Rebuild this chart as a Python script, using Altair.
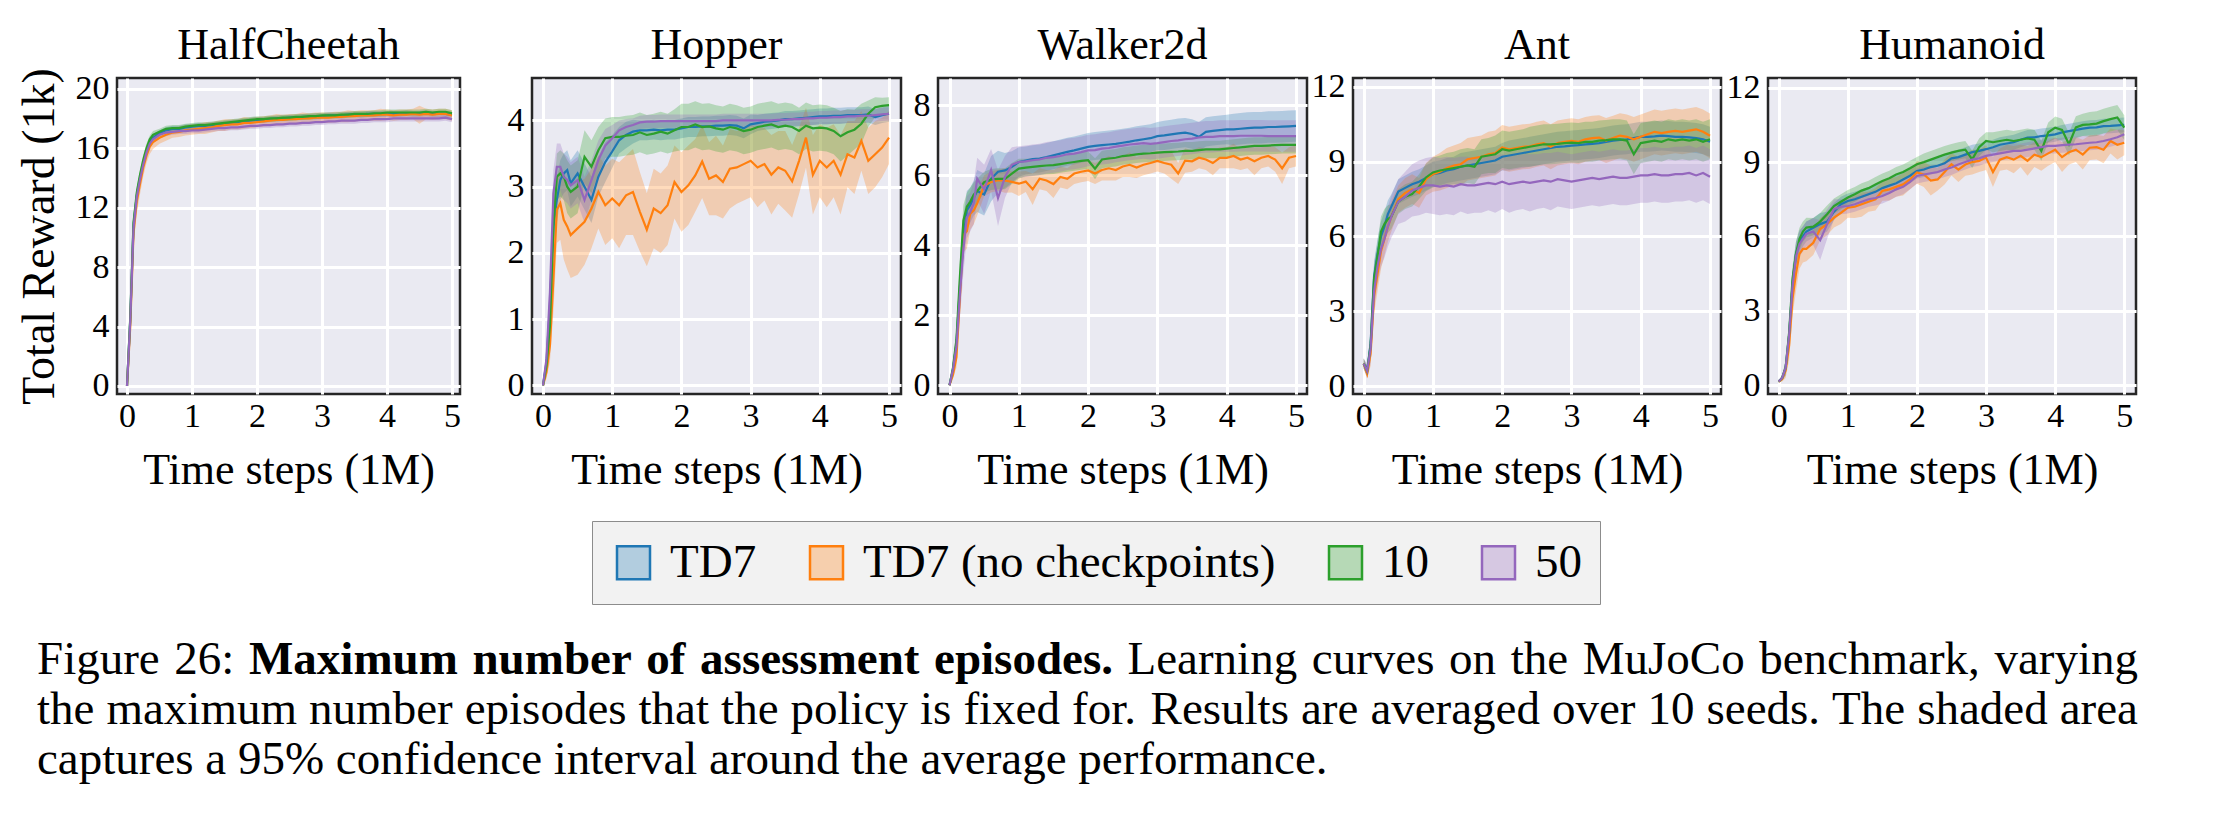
import altair as alt
import pandas as pd

FONT = "Liberation Serif"
SERIES = ["TD7", "TD7 (no checkpoints)", "10", "50"]
COLORS = ["#1f77b4", "#ff7f0e", "#2ca02c", "#9467bd"]
ENVS = ["HalfCheetah", "Hopper", "Walker2d", "Ant", "Humanoid"]

# time steps (1M)
X = [0, 0.05, 0.1, 0.15, 0.2, 0.25, 0.3, 0.35, 0.4,
     0.5, 0.6, 0.7, 0.8, 0.9, 1.0,
     1.1, 1.2, 1.3, 1.4, 1.5, 1.6, 1.7, 1.8, 1.9, 2.0,
     2.1, 2.2, 2.3, 2.4, 2.5, 2.6, 2.7, 2.8, 2.9, 3.0,
     3.1, 3.2, 3.3, 3.4, 3.5, 3.6, 3.7, 3.8, 3.9, 4.0,
     4.1, 4.2, 4.3, 4.4, 4.5, 4.6, 4.7, 4.8, 4.9, 5.0]

# ---------------- HalfCheetah ----------------
HC_TD7 = [0, 4.5, 10.8, 12.8, 14.0, 15.0, 15.8, 16.4, 16.7,
          17.0, 17.2, 17.3, 17.3, 17.4, 17.45,
          17.5, 17.5, 17.55, 17.6, 17.65, 17.7, 17.75, 17.8, 17.85, 17.9,
          17.9, 17.95, 18.0, 18.0, 18.05, 18.05, 18.1, 18.1, 18.15, 18.15,
          18.2, 18.2, 18.2, 18.25, 18.25, 18.25, 18.3, 18.3, 18.3, 18.3,
          18.3, 18.3, 18.35, 18.3, 18.3, 18.35, 18.3, 18.3, 18.3, 18.25]
HC_TD7_CI = [0, 0.4, 0.5, 0.5, 0.4, 0.35, 0.3, 0.3, 0.25,
             0.2, 0.2, 0.2, 0.2, 0.2, 0.2,
             0.2, 0.2, 0.2, 0.2, 0.2, 0.2, 0.2, 0.2, 0.2, 0.2,
             0.2, 0.2, 0.2, 0.2, 0.2, 0.2, 0.2, 0.2, 0.2, 0.2,
             0.2, 0.2, 0.2, 0.2, 0.2, 0.2, 0.2, 0.2, 0.2, 0.2,
             0.2, 0.2, 0.2, 0.2, 0.2, 0.2, 0.2, 0.2, 0.2, 0.2]
HC_NC = [0, 4.0, 10.3, 12.4, 13.6, 14.7, 15.5, 16.1, 16.4,
         16.7, 16.9, 17.05, 17.1, 17.2, 17.25,
         17.3, 17.35, 17.4, 17.5, 17.55, 17.6, 17.6, 17.7, 17.7, 17.75,
         17.8, 17.85, 17.9, 17.9, 17.95, 17.95, 18.0, 18.0, 18.05, 18.05,
         18.05, 18.1, 18.1, 18.15, 18.15, 18.2, 18.2, 18.2, 18.25, 18.25,
         18.2, 18.25, 18.25, 18.3, 18.25, 18.3, 18.25, 18.3, 18.3, 18.2]
HC_NC_CI = [0, 0.6, 0.9, 0.8, 0.7, 0.6, 0.5, 0.5, 0.45,
            0.4, 0.4, 0.35, 0.35, 0.35, 0.35,
            0.35, 0.4, 0.35, 0.35, 0.4, 0.35, 0.35, 0.4, 0.35, 0.35,
            0.35, 0.35, 0.4, 0.35, 0.35, 0.35, 0.4, 0.35, 0.35, 0.35,
            0.35, 0.35, 0.35, 0.4, 0.35, 0.35, 0.35, 0.35, 0.4, 0.35,
            0.35, 0.35, 0.35, 0.35, 0.6, 0.35, 0.35, 0.35, 0.35, 0.35]
HC_10 = [0, 4.6, 11.0, 13.0, 14.2, 15.2, 16.0, 16.6, 16.9,
         17.1, 17.3, 17.35, 17.35, 17.45, 17.5,
         17.55, 17.55, 17.6, 17.65, 17.7, 17.75, 17.8, 17.85, 17.9, 17.95,
         17.95, 18.0, 18.0, 18.05, 18.05, 18.1, 18.1, 18.15, 18.15, 18.2,
         18.2, 18.2, 18.25, 18.25, 18.3, 18.3, 18.3, 18.35, 18.35, 18.4,
         18.4, 18.4, 18.4, 18.4, 18.4, 18.45, 18.4, 18.45, 18.45, 18.35]
HC_10_CI = [0, 0.4, 0.5, 0.45, 0.4, 0.35, 0.3, 0.25, 0.25,
            0.2, 0.2, 0.2, 0.2, 0.2, 0.2,
            0.2, 0.2, 0.2, 0.2, 0.2, 0.2, 0.2, 0.2, 0.2, 0.2,
            0.2, 0.2, 0.2, 0.2, 0.2, 0.2, 0.2, 0.2, 0.2, 0.2,
            0.2, 0.2, 0.2, 0.2, 0.2, 0.2, 0.2, 0.2, 0.2, 0.2,
            0.2, 0.2, 0.2, 0.2, 0.2, 0.2, 0.2, 0.2, 0.2, 0.2]
HC_50 = [0, 4.4, 10.6, 12.7, 13.9, 14.9, 15.7, 16.3, 16.6,
         16.9, 17.05, 17.1, 17.15, 17.15, 17.2,
         17.2, 17.25, 17.3, 17.35, 17.35, 17.4, 17.4, 17.45, 17.5, 17.5,
         17.55, 17.55, 17.6, 17.6, 17.65, 17.65, 17.7, 17.7, 17.75, 17.75,
         17.8, 17.8, 17.85, 17.85, 17.85, 17.9, 17.9, 17.95, 17.95, 17.95,
         18.0, 18.0, 18.0, 18.0, 18.0, 18.0, 18.0, 18.0, 18.05, 17.95]
HC_50_CI = [0, 0.4, 0.5, 0.5, 0.4, 0.35, 0.3, 0.3, 0.25,
            0.25, 0.25, 0.2, 0.2, 0.2, 0.2,
            0.2, 0.2, 0.2, 0.2, 0.2, 0.2, 0.2, 0.2, 0.2, 0.2,
            0.2, 0.2, 0.2, 0.2, 0.2, 0.2, 0.2, 0.2, 0.2, 0.2,
            0.2, 0.2, 0.2, 0.2, 0.2, 0.2, 0.2, 0.2, 0.2, 0.2,
            0.2, 0.2, 0.2, 0.2, 0.2, 0.2, 0.2, 0.2, 0.2, 0.2]

# ---------------- Hopper ----------------
HO_TD7 = [0, 0.35, 1.2, 2.4, 2.8, 3.1, 3.2, 3.25, 3.05,
          3.2, 3.0, 2.8, 3.15, 3.37, 3.53,
          3.7, 3.78, 3.83, 3.85, 3.85, 3.86, 3.85, 3.86, 3.86, 3.88,
          3.9, 3.9, 3.91, 3.91, 3.92, 3.92, 3.93, 3.92, 3.88, 3.94,
          3.96, 3.98, 3.99, 4.0, 4.02, 4.02, 4.03, 4.04, 4.05, 4.06,
          4.06, 4.07, 4.07, 4.08, 4.08, 4.08, 4.09, 4.05, 4.08, 4.1]
HO_TD7_CI = [0, 0.1, 0.3, 0.35, 0.35, 0.3, 0.3, 0.3, 0.35,
             0.35, 0.35, 0.35, 0.3, 0.3, 0.25,
             0.2, 0.2, 0.18, 0.15, 0.15, 0.15, 0.15, 0.15, 0.15, 0.15,
             0.15, 0.15, 0.15, 0.15, 0.15, 0.15, 0.15, 0.15, 0.15, 0.15,
             0.12, 0.12, 0.12, 0.12, 0.12, 0.12, 0.12, 0.12, 0.12, 0.12,
             0.12, 0.12, 0.12, 0.12, 0.12, 0.12, 0.12, 0.12, 0.12, 0.12]
HO_NC = [0, 0.2, 0.6, 1.6, 2.65, 2.75, 2.5, 2.4, 2.27,
         2.37, 2.47, 2.67, 2.92, 2.72, 2.82,
         2.72, 2.87, 2.92, 2.62, 2.35, 2.67, 2.6, 2.72, 3.07, 2.92,
         3.02, 3.17, 3.38, 3.12, 3.17, 3.07, 3.27, 3.29, 3.34, 3.39,
         3.29, 3.34, 3.18, 3.29, 3.24, 3.08, 3.39, 3.74, 3.18, 3.39,
         3.29, 3.39, 3.18, 3.49, 3.44, 3.69, 3.39, 3.49, 3.59, 3.74]
HO_NC_CI = [0, 0.1, 0.25, 0.5, 0.5, 0.55, 0.6, 0.65, 0.65,
            0.7, 0.65, 0.6, 0.55, 0.6, 0.6,
            0.65, 0.6, 0.65, 0.6, 0.55, 0.6, 0.6, 0.6, 0.55, 0.6,
            0.6, 0.55, 0.55, 0.55, 0.6, 0.55, 0.6, 0.55, 0.55, 0.55,
            0.6, 0.55, 0.6, 0.55, 0.6, 0.55, 0.5, 0.45, 0.6, 0.55,
            0.6, 0.55, 0.6, 0.5, 0.55, 0.45, 0.5, 0.5, 0.45, 0.4]
HO_10 = [0, 0.3, 0.9, 2.4, 3.15, 3.2, 3.15, 3.0, 2.92,
         3.0, 3.45, 3.3, 3.55, 3.73, 3.75,
         3.75, 3.77, 3.78, 3.82, 3.78, 3.8, 3.83, 3.8, 3.85, 3.9,
         3.9, 3.94, 3.9, 3.91, 3.88, 3.86, 3.9, 3.88, 3.84, 3.86,
         3.9, 3.92, 3.94, 3.9, 3.92, 3.9, 3.84, 3.92, 3.88, 3.89,
         3.88, 3.84, 3.76, 3.82, 3.86, 3.95, 4.1, 4.2, 4.22, 4.23]
HO_10_CI = [0, 0.1, 0.3, 0.4, 0.35, 0.35, 0.35, 0.4, 0.4,
            0.4, 0.4, 0.4, 0.35, 0.3, 0.3,
            0.3, 0.3, 0.3, 0.3, 0.3, 0.3, 0.3, 0.3, 0.32, 0.35,
            0.35, 0.35, 0.35, 0.35, 0.35, 0.35, 0.35, 0.35, 0.35, 0.35,
            0.35, 0.35, 0.35, 0.35, 0.35, 0.35, 0.35, 0.35, 0.35, 0.35,
            0.35, 0.35, 0.38, 0.35, 0.3, 0.3, 0.2, 0.15, 0.12, 0.12]
HO_50 = [0, 0.4, 1.4, 2.9, 3.3, 3.3, 3.15, 3.1, 3.02,
         3.1, 2.8, 3.1, 3.4, 3.62, 3.73,
         3.85, 3.9, 3.93, 3.97, 3.98, 3.98, 3.99, 3.99, 3.99, 3.99,
         3.99, 3.99, 3.99, 3.99, 3.99, 4.0, 4.0, 4.0, 4.0, 4.0,
         4.0, 4.0, 4.0, 4.01, 4.01, 4.02, 4.02, 4.03, 4.03, 4.04,
         4.04, 4.05, 4.05, 4.06, 4.06, 4.07, 4.07, 4.08, 4.09, 4.1]
HO_50_CI = [0, 0.1, 0.3, 0.35, 0.35, 0.35, 0.35, 0.35, 0.35,
            0.35, 0.35, 0.3, 0.3, 0.25, 0.2,
            0.15, 0.12, 0.1, 0.1, 0.1, 0.1, 0.1, 0.1, 0.1, 0.1,
            0.1, 0.1, 0.1, 0.1, 0.1, 0.1, 0.1, 0.1, 0.1, 0.1,
            0.1, 0.1, 0.1, 0.1, 0.1, 0.1, 0.1, 0.1, 0.1, 0.1,
            0.1, 0.1, 0.1, 0.1, 0.1, 0.1, 0.1, 0.1, 0.1, 0.1]

# ---------------- Walker2d ----------------
WA_TD7 = [0, 0.45, 1.2, 2.8, 4.2, 5.0, 5.15, 5.35, 5.55,
          5.45, 5.9, 6.1, 6.14, 6.24, 6.38,
          6.42, 6.46, 6.48, 6.52, 6.57, 6.62, 6.67, 6.71, 6.76, 6.81,
          6.84, 6.86, 6.88, 6.9, 6.93, 6.96, 7.0, 7.03, 7.06, 7.12,
          7.14, 7.17, 7.2, 7.22, 7.18, 7.1, 7.24, 7.27, 7.29, 7.31,
          7.31, 7.33, 7.35, 7.36, 7.36, 7.38, 7.38, 7.39, 7.4, 7.41]
WA_TD7_CI = [0, 0.1, 0.3, 0.5, 0.6, 0.55, 0.5, 0.5, 0.6,
             0.6, 0.65, 0.6, 0.5, 0.45, 0.42,
             0.4, 0.4, 0.4, 0.4, 0.4, 0.4, 0.4, 0.4, 0.4, 0.4,
             0.4, 0.4, 0.4, 0.4, 0.4, 0.4, 0.4, 0.4, 0.4, 0.4,
             0.42, 0.42, 0.42, 0.42, 0.42, 0.42, 0.42, 0.42, 0.42, 0.42,
             0.45, 0.45, 0.45, 0.45, 0.45, 0.45, 0.45, 0.45, 0.45, 0.45]
WA_NC = [0, 0.3, 0.8, 2.5, 4.3, 4.4, 4.9, 5.0, 5.2,
         5.7, 5.81, 5.86, 5.85, 5.81, 5.76,
         5.82, 5.6, 5.9, 5.85, 5.75, 5.95, 5.9, 6.05, 6.1, 6.14,
         6.05, 6.15, 6.2, 6.15, 6.25, 6.3, 6.22, 6.3, 6.35, 6.41,
         6.35, 6.3, 6.05, 6.42, 6.4, 6.5, 6.45, 6.35, 6.5, 6.5,
         6.55, 6.45, 6.5, 6.4, 6.5, 6.55, 6.45, 6.2, 6.5, 6.55]
WA_NC_CI = [0, 0.1, 0.3, 0.4, 0.5, 0.5, 0.45, 0.4, 0.35,
            0.3, 0.3, 0.3, 0.35, 0.3, 0.35,
            0.3, 0.45, 0.3, 0.3, 0.4, 0.3, 0.3, 0.3, 0.3, 0.3,
            0.3, 0.3, 0.35, 0.3, 0.3, 0.35, 0.3, 0.3, 0.3, 0.3,
            0.3, 0.4, 0.3, 0.35, 0.3, 0.3, 0.3, 0.35, 0.3, 0.3,
            0.35, 0.3, 0.3, 0.4, 0.3, 0.3, 0.35, 0.45, 0.3, 0.3]
WA_10 = [0, 0.5, 1.3, 3.1, 4.7, 5.1, 5.25, 5.45, 5.55,
         5.8, 5.88, 5.9, 5.9, 6.05, 6.19,
         6.22, 6.24, 6.26, 6.28, 6.29, 6.32, 6.35, 6.38, 6.41, 6.43,
         6.19, 6.45, 6.48, 6.5, 6.55, 6.57, 6.6, 6.62, 6.63, 6.65,
         6.66, 6.67, 6.68, 6.7, 6.7, 6.72, 6.74, 6.74, 6.74, 6.76,
         6.78, 6.8, 6.82, 6.84, 6.84, 6.85, 6.86, 6.87, 6.87, 6.87]
WA_10_CI = [0, 0.1, 0.3, 0.45, 0.45, 0.4, 0.4, 0.35, 0.35,
            0.3, 0.3, 0.3, 0.3, 0.3, 0.28,
            0.25, 0.25, 0.25, 0.25, 0.25, 0.25, 0.25, 0.25, 0.25, 0.25,
            0.3, 0.25, 0.25, 0.25, 0.25, 0.25, 0.25, 0.25, 0.25, 0.25,
            0.25, 0.25, 0.25, 0.25, 0.25, 0.25, 0.25, 0.25, 0.25, 0.25,
            0.25, 0.25, 0.25, 0.25, 0.25, 0.25, 0.25, 0.25, 0.25, 0.25]
WA_50 = [0, 0.45, 1.1, 2.6, 3.9, 4.8, 4.95, 5.2, 5.9,
         5.6, 6.15, 5.35, 5.95, 6.3, 6.38,
         6.4, 6.43, 6.45, 6.5, 6.52, 6.55, 6.6, 6.62, 6.66, 6.71,
         6.72, 6.76, 6.78, 6.82, 6.85, 6.88, 6.9, 6.92, 6.9, 6.92,
         6.95, 6.98, 7.0, 7.03, 7.05, 7.08, 7.1, 7.1, 7.12, 7.12,
         7.12, 7.13, 7.13, 7.13, 7.13, 7.12, 7.12, 7.12, 7.12, 7.12]
WA_50_CI = [0, 0.1, 0.3, 0.7, 0.7, 0.6, 0.55, 0.6, 0.6,
            0.7, 0.6, 0.8, 0.6, 0.5, 0.45,
            0.45, 0.45, 0.45, 0.45, 0.45, 0.45, 0.45, 0.45, 0.45, 0.45,
            0.45, 0.45, 0.45, 0.45, 0.45, 0.45, 0.45, 0.45, 0.45, 0.45,
            0.45, 0.45, 0.45, 0.45, 0.45, 0.45, 0.45, 0.45, 0.45, 0.45,
            0.45, 0.45, 0.45, 0.45, 0.45, 0.45, 0.45, 0.45, 0.45, 0.45]

# ---------------- Ant ----------------
AN_TD7 = [0.9, 0.6, 1.7, 4.4, 5.3, 6.0, 6.4, 6.9, 7.2,
          7.8, 7.95, 8.1, 8.2, 8.35, 8.5,
          8.55, 8.65, 8.7, 8.8, 8.85, 8.9, 8.95, 9.0, 9.05, 9.2,
          9.25, 9.3, 9.35, 9.4, 9.45, 9.5, 9.55, 9.6, 9.62, 9.65,
          9.67, 9.7, 9.72, 9.75, 9.8, 9.85, 9.88, 9.9, 9.95, 10.0,
          10.0, 10.02, 10.05, 10.03, 10.0, 10.0, 9.98, 9.95, 9.9, 9.8]
AN_TD7_CI = [0.2, 0.2, 0.4, 0.6, 0.6, 0.6, 0.6, 0.55, 0.5,
             0.5, 0.5, 0.5, 0.5, 0.5, 0.5,
             0.5, 0.5, 0.5, 0.55, 0.55, 0.55, 0.55, 0.55, 0.55, 0.55,
             0.6, 0.6, 0.6, 0.6, 0.6, 0.6, 0.6, 0.6, 0.6, 0.6,
             0.6, 0.6, 0.6, 0.6, 0.6, 0.6, 0.6, 0.6, 0.6, 0.6,
             0.6, 0.6, 0.6, 0.6, 0.6, 0.6, 0.6, 0.6, 0.6, 0.6]
AN_NC = [0.9, 0.5, 1.3, 3.6, 4.5, 5.4, 5.9, 6.4, 6.8,
         7.5, 7.75, 7.9, 7.75, 8.3, 8.5,
         8.6, 8.75, 8.85, 8.9, 9.1, 9.15, 9.2, 9.3, 9.35, 9.57,
         9.5, 9.55, 9.6, 9.62, 9.7, 9.75, 9.6, 9.75, 9.8, 9.84,
         9.8, 9.9, 9.95, 9.97, 9.85, 9.95, 10.05, 10.0, 9.9, 10.0,
         10.1, 10.2, 10.15, 10.2, 10.24, 10.2, 10.25, 10.3, 10.2, 10.04]
AN_NC_CI = [0.2, 0.2, 0.5, 0.7, 0.7, 0.7, 0.65, 0.6, 0.6,
            0.55, 0.6, 0.6, 0.6, 0.65, 0.7,
            0.75, 0.8, 0.8, 0.85, 0.85, 0.85, 0.85, 0.9, 0.9, 0.9,
            0.9, 0.9, 0.9, 0.9, 0.9, 0.9, 0.9, 0.9, 0.9, 0.9,
            0.9, 0.9, 0.9, 0.9, 0.9, 0.9, 0.9, 0.9, 0.9, 0.9,
            0.9, 0.9, 0.9, 0.9, 0.9, 0.9, 0.9, 0.9, 0.9, 0.9]
AN_10 = [0.9, 0.6, 1.6, 4.3, 5.2, 6.2, 6.5, 6.7, 6.8,
         7.4, 7.6, 7.7, 8.0, 8.37, 8.57,
         8.65, 8.7, 8.75, 8.8, 8.85, 8.8, 9.2, 9.25, 9.3, 9.5,
         9.45, 9.5, 9.55, 9.6, 9.65, 9.7, 9.7, 9.72, 9.75, 9.77,
         9.75, 9.8, 9.8, 9.85, 9.87, 9.9, 9.9, 9.85, 9.3, 9.75,
         9.8, 9.85, 9.8, 9.9, 9.85, 9.9, 9.85, 9.9, 9.8, 9.9]
AN_10_CI = [0.2, 0.2, 0.5, 0.6, 0.6, 0.6, 0.6, 0.55, 0.5,
            0.5, 0.5, 0.5, 0.5, 0.55, 0.6,
            0.6, 0.65, 0.65, 0.7, 0.7, 0.7, 0.7, 0.7, 0.75, 0.75,
            0.75, 0.75, 0.75, 0.8, 0.8, 0.8, 0.8, 0.8, 0.8, 0.8,
            0.8, 0.8, 0.8, 0.8, 0.8, 0.8, 0.8, 0.8, 0.8, 0.8,
            0.8, 0.8, 0.8, 0.8, 0.8, 0.8, 0.8, 0.8, 0.8, 0.8]
AN_50 = [0.9, 0.6, 1.5, 3.8, 4.8, 5.5, 5.9, 6.4, 6.8,
         7.4, 7.6, 7.85, 7.95, 8.05, 8.05,
         8.0, 8.05, 8.0, 8.1, 8.05, 8.05, 8.1, 8.15, 8.1, 8.2,
         8.1, 8.15, 8.2, 8.15, 8.2, 8.25, 8.2, 8.3, 8.25, 8.2,
         8.25, 8.3, 8.35, 8.3, 8.35, 8.4, 8.35, 8.35, 8.4, 8.45,
         8.45, 8.5, 8.45, 8.45, 8.5, 8.5, 8.55, 8.45, 8.55, 8.4]
AN_50_CI = [0.2, 0.3, 0.6, 0.7, 0.7, 0.7, 0.75, 0.8, 0.85,
            0.9, 1.0, 1.05, 1.1, 1.1, 1.15,
            1.15, 1.15, 1.15, 1.1, 1.15, 1.1, 1.15, 1.1, 1.15, 1.1,
            1.15, 1.1, 1.1, 1.15, 1.1, 1.1, 1.15, 1.1, 1.1, 1.1,
            1.1, 1.1, 1.1, 1.1, 1.1, 1.1, 1.1, 1.1, 1.1, 1.1,
            1.1, 1.1, 1.1, 1.1, 1.1, 1.1, 1.1, 1.1, 1.1, 1.1]

# ---------------- Humanoid ----------------
HU_TD7 = [0.15, 0.3, 0.7, 2.0, 4.1, 5.3, 5.8, 6.0, 6.2,
          6.35, 6.5, 6.6, 7.0, 7.3, 7.43,
          7.5, 7.6, 7.7, 7.8, 7.95, 8.05, 8.15, 8.3, 8.45, 8.64,
          8.7, 8.8, 8.85, 8.95, 9.15, 9.2, 9.3, 9.4, 9.45, 9.52,
          9.6, 9.7, 9.75, 9.8, 9.9, 9.99, 10.0, 10.05, 10.08, 10.12,
          10.2, 10.25, 10.3, 10.35, 10.39, 10.4, 10.45, 10.46, 10.48, 10.5]
HU_TD7_CI = [0.05, 0.1, 0.2, 0.4, 0.5, 0.5, 0.45, 0.4, 0.4,
             0.4, 0.45, 0.4, 0.35, 0.3, 0.3,
             0.3, 0.3, 0.3, 0.3, 0.3, 0.3, 0.3, 0.3, 0.3, 0.3,
             0.3, 0.3, 0.3, 0.3, 0.3, 0.3, 0.3, 0.3, 0.3, 0.3,
             0.3, 0.3, 0.3, 0.3, 0.3, 0.3, 0.3, 0.3, 0.3, 0.3,
             0.3, 0.3, 0.3, 0.3, 0.3, 0.3, 0.3, 0.3, 0.3, 0.3]
HU_NC = [0.15, 0.25, 0.6, 1.6, 3.5, 4.5, 5.3, 5.5, 5.5,
         5.75, 6.3, 6.5, 6.76, 6.95, 7.16,
         7.2, 7.3, 7.4, 7.5, 7.84, 7.9, 8.0, 8.1, 8.3, 8.58,
         8.5, 8.25, 8.3, 8.6, 8.91, 8.7, 8.9, 9.0, 9.05, 9.18,
         8.6, 9.1, 9.2, 9.1, 9.25, 9.05, 9.3, 9.2, 9.35, 9.5,
         9.2, 9.4, 9.5, 9.3, 9.58, 9.6, 9.5, 9.85, 9.7, 9.78]
HU_NC_CI = [0.05, 0.1, 0.3, 0.6, 0.7, 0.7, 0.6, 0.55, 0.5,
            0.5, 0.45, 0.45, 0.4, 0.45, 0.4,
            0.45, 0.5, 0.4, 0.45, 0.4, 0.45, 0.4, 0.45, 0.4, 0.45,
            0.5, 0.6, 0.45, 0.5, 0.45, 0.5, 0.45, 0.5, 0.45, 0.5,
            0.6, 0.45, 0.5, 0.55, 0.45, 0.6, 0.5, 0.55, 0.5, 0.5,
            0.6, 0.5, 0.5, 0.6, 0.5, 0.5, 0.55, 0.5, 0.6, 0.5]
HU_10 = [0.15, 0.3, 0.7, 2.1, 4.3, 5.3, 5.9, 6.2, 6.36,
         6.4, 6.6, 6.9, 7.23, 7.4, 7.57,
         7.7, 7.85, 7.95, 8.1, 8.24, 8.35, 8.5, 8.6, 8.75, 8.91,
         9.0, 9.1, 9.2, 9.3, 9.38, 9.45, 9.5, 9.11, 9.6, 9.85,
         9.8, 9.85, 9.9, 9.85, 9.9, 9.95, 9.9, 9.45, 10.2, 10.39,
         10.3, 9.72, 10.4, 10.5, 10.52, 10.55, 10.65, 10.73, 10.8, 10.39]
HU_10_CI = [0.05, 0.1, 0.3, 0.5, 0.5, 0.5, 0.45, 0.4, 0.4,
            0.35, 0.35, 0.35, 0.3, 0.3, 0.3,
            0.3, 0.3, 0.3, 0.3, 0.3, 0.3, 0.3, 0.3, 0.3, 0.3,
            0.35, 0.35, 0.35, 0.35, 0.35, 0.35, 0.35, 0.35, 0.35, 0.35,
            0.4, 0.4, 0.4, 0.4, 0.4, 0.4, 0.4, 0.4, 0.4, 0.45,
            0.45, 0.45, 0.45, 0.45, 0.5, 0.5, 0.5, 0.5, 0.5, 0.5]
HU_50 = [0.15, 0.3, 0.7, 2.0, 4.0, 5.2, 5.7, 5.9, 6.1,
         6.2, 5.85, 6.5, 7.1, 7.2, 7.23,
         7.3, 7.4, 7.5, 7.55, 7.63, 7.75, 7.9, 8.0, 8.2, 8.44,
         8.5, 8.55, 8.6, 8.7, 8.78, 8.9, 9.0, 9.1, 9.15, 9.25,
         9.3, 9.35, 9.4, 9.45, 9.45, 9.5, 9.55, 9.6, 9.65, 9.65,
         9.68, 9.7, 9.72, 9.75, 9.78, 9.8, 9.85, 9.92, 10.0, 10.12]
HU_50_CI = [0.05, 0.1, 0.3, 0.5, 0.5, 0.5, 0.5, 0.5, 0.5,
            0.55, 0.8, 0.6, 0.4, 0.3, 0.3,
            0.3, 0.3, 0.3, 0.3, 0.3, 0.3, 0.3, 0.3, 0.3, 0.3,
            0.3, 0.3, 0.3, 0.3, 0.3, 0.3, 0.3, 0.3, 0.3, 0.3,
            0.3, 0.3, 0.3, 0.3, 0.3, 0.3, 0.3, 0.3, 0.3, 0.3,
            0.3, 0.3, 0.3, 0.3, 0.3, 0.3, 0.3, 0.3, 0.3, 0.3]

Y_TICKS = {
    "HalfCheetah": [0, 4, 8, 12, 16, 20],
    "Hopper": [0, 1, 2, 3, 4],
    "Walker2d": [0, 2, 4, 6, 8],
    "Ant": [0, 3, 6, 9, 12],
    "Humanoid": [0, 3, 6, 9, 12],
}
X_TICKS = [0, 1, 2, 3, 4, 5]

DATA = {
    "HalfCheetah": ([HC_TD7, HC_NC, HC_10, HC_50], [HC_TD7_CI, HC_NC_CI, HC_10_CI, HC_50_CI]),
    "Hopper": ([HO_TD7, HO_NC, HO_10, HO_50], [HO_TD7_CI, HO_NC_CI, HO_10_CI, HO_50_CI]),
    "Walker2d": ([WA_TD7, WA_NC, WA_10, WA_50], [WA_TD7_CI, WA_NC_CI, WA_10_CI, WA_50_CI]),
    "Ant": ([AN_TD7, AN_NC, AN_10, AN_50], [AN_TD7_CI, AN_NC_CI, AN_10_CI, AN_50_CI]),
    "Humanoid": ([HU_TD7, HU_NC, HU_10, HU_50], [HU_TD7_CI, HU_NC_CI, HU_10_CI, HU_50_CI]),
}

# caption text
CAP_LINE1 = [("Figure", False), ("26:", False), ("Maximum", True), ("number", True), ("of", True),
             ("assessment", True), ("episodes.", True), ("Learning", False), ("curves", False),
             ("on", False), ("the", False), ("MuJoCo", False), ("benchmark,", False), ("varying", False)]
CAP_LINE2 = "the maximum number episodes that the policy is fixed for. Results are averaged over 10 seeds. The shaded area"
CAP_LINE3 = "captures a 95% confidence interval around the average performance."

# ---------------- layout (pixels) ----------------
LAYOUT = {
    "HalfCheetah": dict(w=343, xd=[-0.154, 5.123], yd=[-0.54, 20.72]),
    "Hopper": dict(w=369, xd=[-0.159, 5.173], yd=[-0.13, 4.64]),
    "Walker2d": dict(w=369, xd=[-0.166, 5.159], yd=[-0.25, 8.78]),
    "Ant": dict(w=368, xd=[-0.154, 5.159], yd=[-0.32, 12.36]),
    "Humanoid": dict(w=368, xd=[-0.155, 5.17], yd=[-0.35, 12.39]),
}
GAPS = [72, 37, 46, 47]          # space between consecutive plot frames
H = 316
BAND_OPACITY = 0.28
ANCHOR = (-108, -69)             # top-left corner of the whole figure, relative to first plot
LEG_X, LEG_Y = 475, 443          # legend box, relative to first plot
TITLE_OFFSET = 19

CAP_FS = 47
CAP_LEFT, CAP_RIGHT = -80, 2021  # caption text block, relative to first plot
CAP_Y = [596, 646, 696]          # baselines, relative to first plot top

# Times / Liberation Serif advance widths (1/1000 em)
W_REG = dict(zip("abcdefghijklmnopqrstuvwxyz",
                 [444, 500, 444, 500, 444, 333, 500, 500, 278, 278, 500, 278, 778,
                  500, 500, 500, 500, 333, 389, 278, 500, 500, 722, 500, 500, 444]))
W_REG.update({"F": 556, "L": 611, "M": 889, "J": 389, "C": 667, "R": 667, "T": 611,
              ",": 250, ".": 250, ":": 278, "%": 833, " ": 250})
W_REG.update({d: 500 for d in "0123456789"})
W_BOLD = dict(zip("abcdefghijklmnopqrstuvwxyz",
                  [500, 556, 444, 556, 444, 333, 500, 556, 278, 333, 556, 278, 833,
                   556, 500, 556, 556, 444, 389, 333, 556, 500, 722, 500, 500, 444]))
W_BOLD.update({"M": 944, ".": 250, ",": 250, " ": 250})


def text_width(s, bold):
    table = W_BOLD if bold else W_REG
    return sum(table.get(ch, 500) for ch in s) / 1000.0 * CAP_FS


tiny = pd.DataFrame({"k": [0]})


def legend_common(**kw):
    return alt.Legend(
        title=None, orient="none", direction="horizontal", legendX=LEG_X, legendY=LEG_Y,
        symbolType="square", symbolSize=1089,
        labelFont=FONT, labelFontSize=47, labelColor="black", labelOffset=13, labelLimit=1000,
        columnPadding=46, padding=18, **kw,
    )


LEG_FILL = dict(symbolOpacity=0.3, symbolStrokeWidth=0, fillColor="#f2f2f2",
                strokeColor="#8c8c8c", zindex=0)
LEG_STROKE = dict(symbolOpacity=1, symbolStrokeWidth=2.5, symbolFillColor="transparent",
                  fillColor="transparent", strokeColor="transparent", labelOpacity=0,
                  labelExpr="trim(datum.label)", zindex=1)


def text_layer(s, x, y, size, bold=False, align="left"):
    return alt.Chart(tiny).mark_text(
        text=s, font=FONT, fontSize=size, fontWeight="bold" if bold else "normal",
        align=align, baseline="alphabetic", color="black",
    ).encode(x=alt.value(x), y=alt.value(y))


def justified(words, y):
    """Place words so the line spans CAP_LEFT..CAP_RIGHT (full justification)."""
    widths = [text_width(w, b) for w, b in words]
    gap = (CAP_RIGHT - CAP_LEFT - sum(widths)) / (len(words) - 1)
    out, x = [], CAP_LEFT
    for (w, b), wd in zip(words, widths):
        out.append(text_layer(w, x, y, CAP_FS, bold=b))
        x += wd + gap
    return out


def caption_layers():
    layers = justified(CAP_LINE1, CAP_Y[0])
    layers += justified([(w, False) for w in CAP_LINE2.split(" ")], CAP_Y[1])
    layers.append(text_layer(CAP_LINE3, CAP_LEFT, CAP_Y[2], CAP_FS))
    return layers


def panel(env, first):
    means, cis = DATA[env]
    lay = LAYOUT[env]
    rows = []
    for s, m, c in zip(SERIES, means, cis):
        for x, v, h in zip(X, m, c):
            rows.append({"x": x, "mean": v, "lo": v - h, "hi": v + h,
                         "series": s, "series_s": s + " "})
    df = pd.DataFrame(rows)

    xaxis = alt.Axis(values=X_TICKS, format="d", title="Time steps (1M)", grid=True,
                     gridColor="white", gridWidth=3, gridOpacity=1, ticks=False, domain=False,
                     labelFont=FONT, labelFontSize=34, labelColor="black", labelPadding=5,
                     labelFlush=False, labelOverlap=False,
                     titleFont=FONT, titleFontSize=44, titleFontWeight="normal",
                     titleColor="black", titlePadding=15)
    if first:
        yaxis = alt.Axis(values=Y_TICKS[env], format="d", title="Total Reward (1k)", grid=True,
                         gridColor="white", gridWidth=3, gridOpacity=1, ticks=False, domain=False,
                         labelFont=FONT, labelFontSize=34, labelColor="black", labelPadding=8,
                         labelOverlap=False,
                         titleFont=FONT, titleFontSize=46, titleFontWeight="normal",
                         titleColor="black", titlePadding=12)
    else:
        yaxis = alt.Axis(values=Y_TICKS[env], format="d", title=None, grid=True,
                         gridColor="white", gridWidth=3, gridOpacity=1, ticks=False, domain=False,
                         labelFont=FONT, labelFontSize=34, labelColor="black", labelPadding=8,
                         labelOverlap=False)

    xs = alt.Scale(domain=lay["xd"], nice=False, zero=False)
    ys = alt.Scale(domain=lay["yd"], nice=False, zero=False)

    band = alt.Chart(df).mark_area(fillOpacity=BAND_OPACITY, clip=True).encode(
        x=alt.X("x:Q", scale=xs, axis=xaxis),
        y=alt.Y("lo:Q", scale=ys, axis=yaxis),
        y2="hi:Q",
        fill=alt.Fill("series:N", scale=alt.Scale(domain=SERIES, range=COLORS),
                      legend=legend_common(**LEG_FILL)),
    )
    line = alt.Chart(df).mark_line(strokeWidth=2.2, clip=True).encode(
        x=alt.X("x:Q", scale=xs, axis=xaxis),
        y=alt.Y("mean:Q", scale=ys, axis=yaxis),
        stroke=alt.Stroke("series_s:N",
                          scale=alt.Scale(domain=[s + " " for s in SERIES], range=COLORS),
                          legend=legend_common(**LEG_STROKE)),
    )
    layers = [band, line, text_layer(env, lay["w"] / 2, -TITLE_OFFSET, 44, align="center")]
    if first:
        layers.append(
            alt.Chart(tiny).mark_rule(strokeOpacity=0, strokeWidth=1).encode(
                x=alt.value(ANCHOR[0] + 0.5), y=alt.value(ANCHOR[1] + 0.5),
                y2=alt.value(ANCHOR[1] + 10))
        )
        layers += caption_layers()
    return alt.layer(*layers).properties(
        width=lay["w"], height=H,
        view=alt.ViewBackground(fill="#eaeaf2", stroke="#262626", strokeWidth=2.5),
    )


def spacer(w):
    return alt.Chart(tiny).mark_rule(strokeOpacity=0).encode(
        x=alt.value(0), y=alt.value(0), y2=alt.value(1)
    ).properties(width=w, height=H,
                 view=alt.ViewBackground(fill="transparent", stroke="transparent"))


items = []
for i, e in enumerate(ENVS):
    items.append(panel(e, i == 0))
    if i < len(GAPS):
        items.append(spacer(GAPS[i]))

chart = alt.hconcat(*items, spacing=0, bounds="flush").resolve_scale(
    x="independent", y="independent", fill="shared", stroke="shared"
).properties(
    padding=0,
    background="white",
).configure_view(strokeWidth=0)

chart.save("out.html", embed_options={"renderer": "svg", "actions": False})
